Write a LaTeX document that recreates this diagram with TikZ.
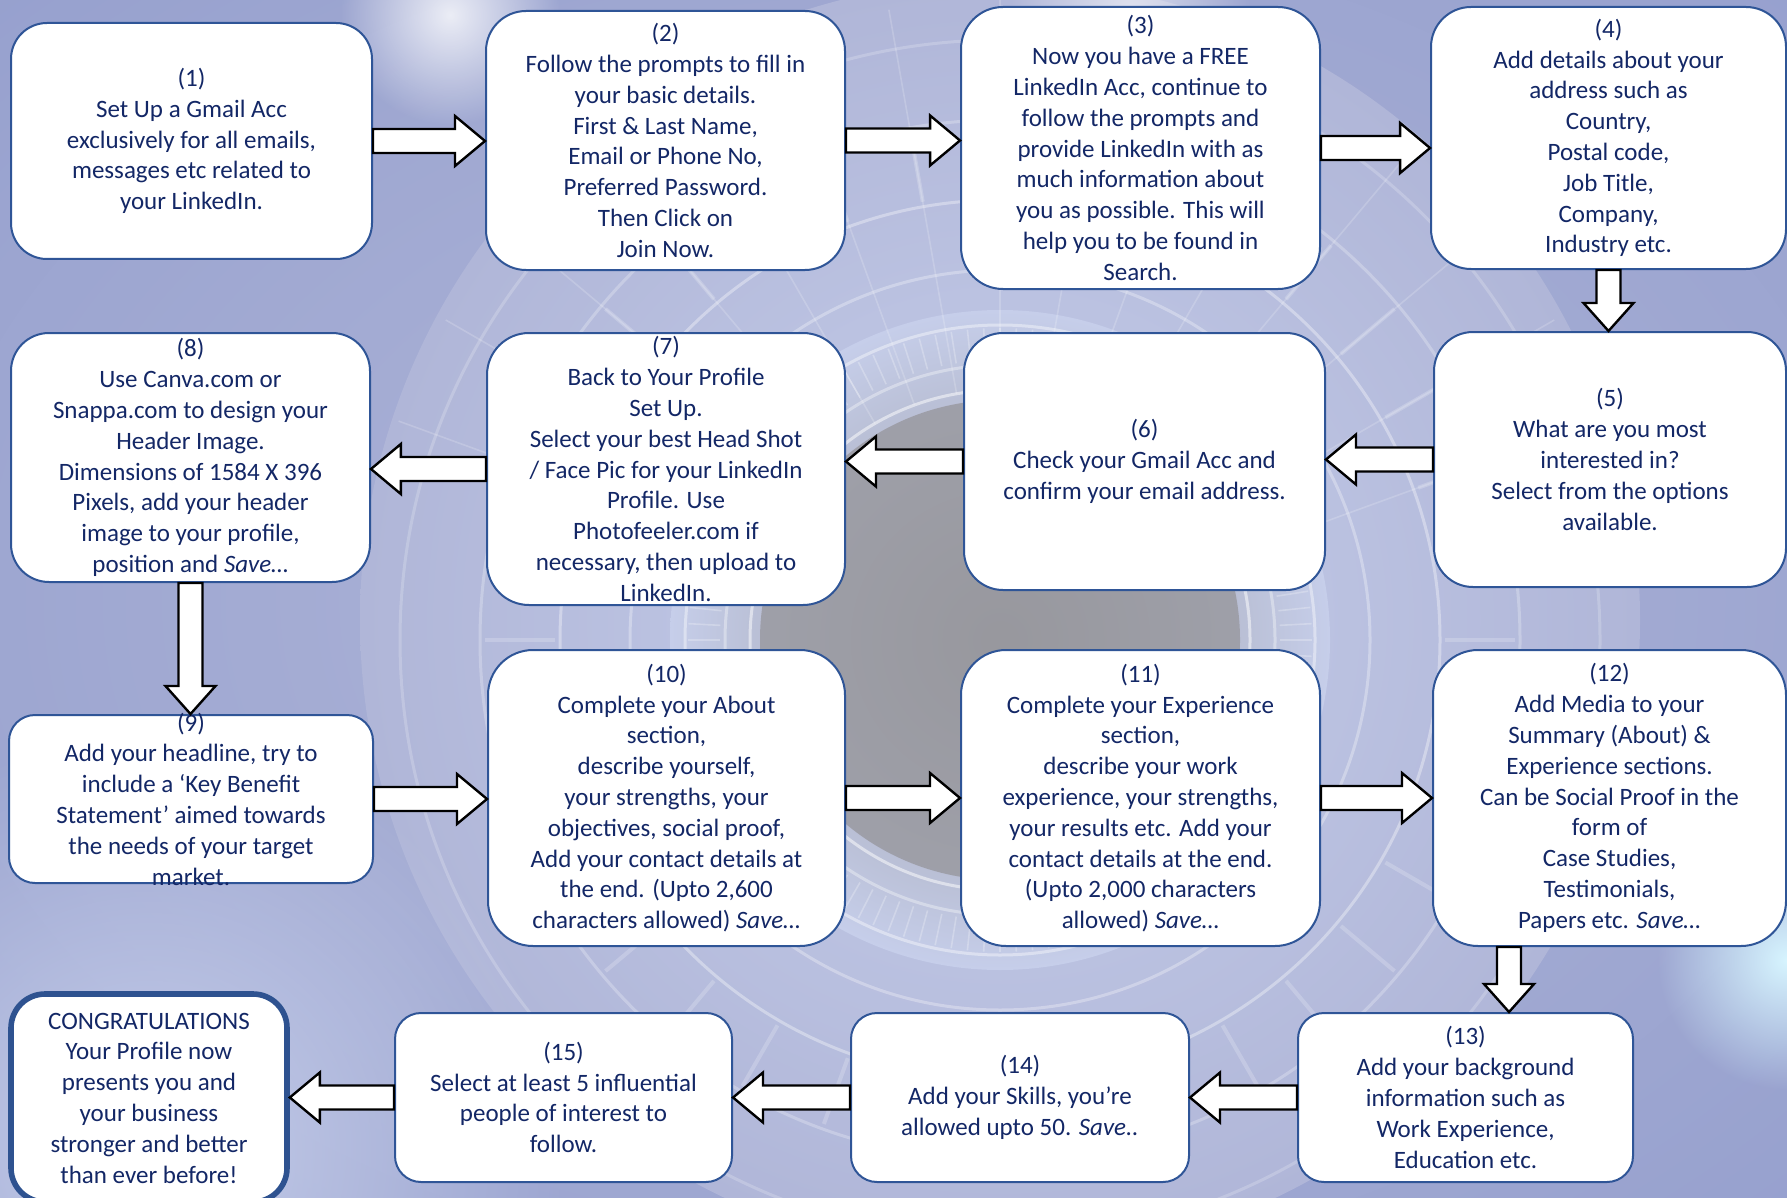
\documentclass[tikz,border=0pt]{standalone}
\usepackage{fontspec}
\setmainfont{Carlito}
\usetikzlibrary{calc,fadings}
\definecolor{navy}{HTML}{132766}
\definecolor{boxline}{HTML}{2F5597}
\definecolor{congline}{HTML}{2E5290}
\definecolor{bgbase}{RGB}{176,182,216}
\definecolor{bglight}{RGB}{198,206,234}
\definecolor{bgdark}{RGB}{150,160,206}
\definecolor{centergray}{RGB}{152,152,158}
\definecolor{glowcyan}{RGB}{215,245,255}
\tikzfading[name=softglow, inner color=transparent!0, outer color=transparent!100]

\tikzset{
  stepbox/.style={draw=boxline, line width=1pt, fill=white, rectangle, inner sep=0pt},
  steptext/.style={text=navy, align=center, inner sep=0pt, font=\fontsize{12.5}{15.4}\selectfont},
  blockarr/.style={draw=black, line width=1.2pt, fill=white, line join=miter},
}

% name, x1, y1, x2, y2 (pixels), corner radius, text
\newcommand\stepnode[7]{%
  \node[stepbox, rounded corners=#6, minimum width={(#4-#2)*0.5pt}, minimum height={(#5-#3)*0.5pt}]
    (#1) at ({(#2+#4)/2},{(#3+#5)/2}) {};
  \node[steptext] (#1t) at (#1.center) {#7};}

\newcommand\harrow[2]{%
  \draw[blockarr] let \p1=(#1), \p2=(#2), \p3=($(#2)!15pt!(#1)$) in
    (\x1,\y1-6pt) -- (\x3,\y1-6pt) -- (\x3,\y1-12.5pt) -- (\x2,\y1)
    -- (\x3,\y1+12.5pt) -- (\x3,\y1+6pt) -- (\x1,\y1+6pt) -- cycle;}
\newcommand\varrow[2]{%
  \draw[blockarr] let \p1=(#1), \p2=(#2), \p3=($(#2)!14pt!(#1)$) in
    (\x1-6pt,\y1) -- (\x1-6pt,\y3) -- (\x1-12.5pt,\y3) -- (\x1,\y2)
    -- (\x1+12.5pt,\y3) -- (\x1+6pt,\y3) -- (\x1+6pt,\y1) -- cycle;}

\begin{document}
\begin{tikzpicture}[x=0.5pt,y=-0.5pt]
\useasboundingbox (0,0) rectangle (1787,1198);
% ---------- background ----------
\begin{scope}
  \clip (0,0) rectangle (1787,1198);
  \fill[bgbase] (0,0) rectangle (1787,1198);
  \shade[inner color=bgbase, outer color=bgdark] (900,600) ellipse [x radius=1300, y radius=900];
  \shade[inner color=bglight, outer color=bgbase] (1000,620) circle [radius=640];
  \fill[bglight, path fading=softglow] (150,1150) circle [radius=420];
  \shade[inner color=centergray, outer color=bglight] (1000,640) circle [radius=330];
  \fill[centergray, opacity=0.8] (1000,640) circle [radius=240];
  \foreach \r/\o in {250/0.5,275/0.35,315/0.4,370/0.3,440/0.35,520/0.25,600/0.2}
    \draw[white, opacity=\o, line width=1.5pt] (1000,640) circle [radius=\r];
  \foreach \a in {0,3,...,357}
    \draw[white, opacity=0.25, line width=0.8pt] ($(1000,640)+(\a:280)$) -- ($(1000,640)+(\a:312)$);
  \foreach \a in {0,10,...,350}
    \draw[white, opacity=0.2, line width=2pt] ($(1000,640)+(\a:445)$) -- ($(1000,640)+(\a:515)$);
  \foreach \a in {200,210,...,340}
    \draw[white, opacity=0.18, line width=0.8pt] ($(1000,640)+(\a:250)$) -- ($(1000,640)+(\a:640)$);
  \fill[white, path fading=softglow, opacity=0.8] (450,15) circle [radius=110];
  \fill[white, path fading=softglow, opacity=0.6] (1130,10) circle [radius=120];
  \fill[glowcyan, path fading=softglow] (1787,960) circle [radius=130];
\end{scope}

% ---------- boxes ----------
\stepnode{b1}{11}{23}{372}{259}{18pt}{(1)\\Set Up a Gmail Acc\\exclusively for all emails,\\messages etc related to\\your LinkedIn.}
\stepnode{b2}{486}{11}{845}{270}{20pt}{(2)\\Follow the prompts to fill in\\your basic details.\\First \& Last Name,\\Email or Phone No,\\Preferred Password.\\Then Click on\\Join Now.}
\stepnode{b3}{961}{7}{1320}{289}{21pt}{(3)\\Now you have a FREE\\LinkedIn Acc, continue to\\follow the prompts and\\provide LinkedIn with as\\much information about\\you as possible. This will\\help you to be found in\\Search.}
\stepnode{b4}{1431}{7}{1786}{269}{20pt}{(4)\\Add details about your\\address such as\\Country,\\Postal code,\\Job Title,\\Company,\\Industry etc.}
\stepnode{b5}{1434}{332}{1786}{587}{19.5pt}{(5)\\What are you most\\interested in?\\Select from the options\\available.}
\stepnode{b6}{964}{333}{1325}{590}{19.5pt}{(6)\\Check your Gmail Acc and\\confirm your email address.}
\stepnode{b7}{487}{333}{845}{605}{21pt}{(7)\\Back to Your Profile\\Set Up.\\Select your best Head Shot\\/ Face Pic for your LinkedIn\\Profile. Use\\Photofeeler.com if\\necessary, then upload to\\LinkedIn.}
\stepnode{b8}{11}{333}{370}{582}{19pt}{(8)\\Use Canva.com or\\Snappa.com to design your\\Header Image.\\Dimensions of 1584 X 396\\Pixels, add your header\\image to your profile,\\position and \textit{Save…}}
\stepnode{b9}{9}{715}{373}{883}{13pt}{(9)\\Add your headline, try to\\include a ‘Key Benefit\\Statement’ aimed towards\\the needs of your target\\market.}
\stepnode{b10}{488}{650}{845}{946}{22.5pt}{(10)\\Complete your About\\section,\\describe yourself,\\your strengths, your\\objectives, social proof,\\Add your contact details at\\the end. (Upto 2,600\\characters allowed) \textit{Save…}}
\stepnode{b11}{961}{650}{1320}{946}{22.5pt}{(11)\\Complete your Experience\\section,\\describe your work\\experience, your strengths,\\your results etc. Add your\\contact details at the end.\\(Upto 2,000 characters\\allowed) \textit{Save…}}
\stepnode{b12}{1433}{650}{1786}{946}{22.5pt}{(12)\\Add Media to your\\Summary (About) \&\\Experience sections.\\Can be Social Proof in the\\form of\\Case Studies,\\Testimonials,\\Papers etc. \textit{Save…}}
\stepnode{b13}{1298}{1013}{1633}{1182}{13pt}{(13)\\Add your background\\information such as\\Work Experience,\\Education etc.}
\stepnode{b14}{851}{1013}{1189}{1182}{13pt}{(14)\\Add your Skills, you’re\\allowed upto 50. \textit{Save..}}
\stepnode{b15}{395}{1013}{732}{1182}{13pt}{(15)\\Select at least 5 influential\\people of interest to\\follow.}
\node[stepbox, draw=congline, line width=2.8pt, rounded corners=17pt, minimum width=138pt, minimum height=104pt]
  (bc) at (149,1098) {};
\node[steptext] (bct) at (bc.center) {CONGRATULATIONS\\Your Profile now\\presents you and\\your business\\stronger and better\\than ever before!};

% ---------- arrows ----------
\harrow{b1.east}{b2.west}
\harrow{b2.east}{b3.west}
\harrow{b3.east}{b4.west}
\varrow{b4.south}{b4.south |- b5.north}
\harrow{b5.west}{b6.east}
\harrow{b6.west}{b7.east}
\harrow{b7.west}{b8.east}
\varrow{b8.south}{b8.south |- b9.north}
\harrow{b9.east}{b10.west}
\harrow{b10.east}{b11.west}
\harrow{b11.east}{b12.west}
\coordinate (k13) at ($(b13.north)+(43.5,0)$);
\varrow{b12.south -| k13}{k13}
\harrow{b13.west}{b14.east}
\harrow{b14.west}{b15.east}
\harrow{b15.west}{bc.east |- b15.west}
\end{tikzpicture}
\end{document}
